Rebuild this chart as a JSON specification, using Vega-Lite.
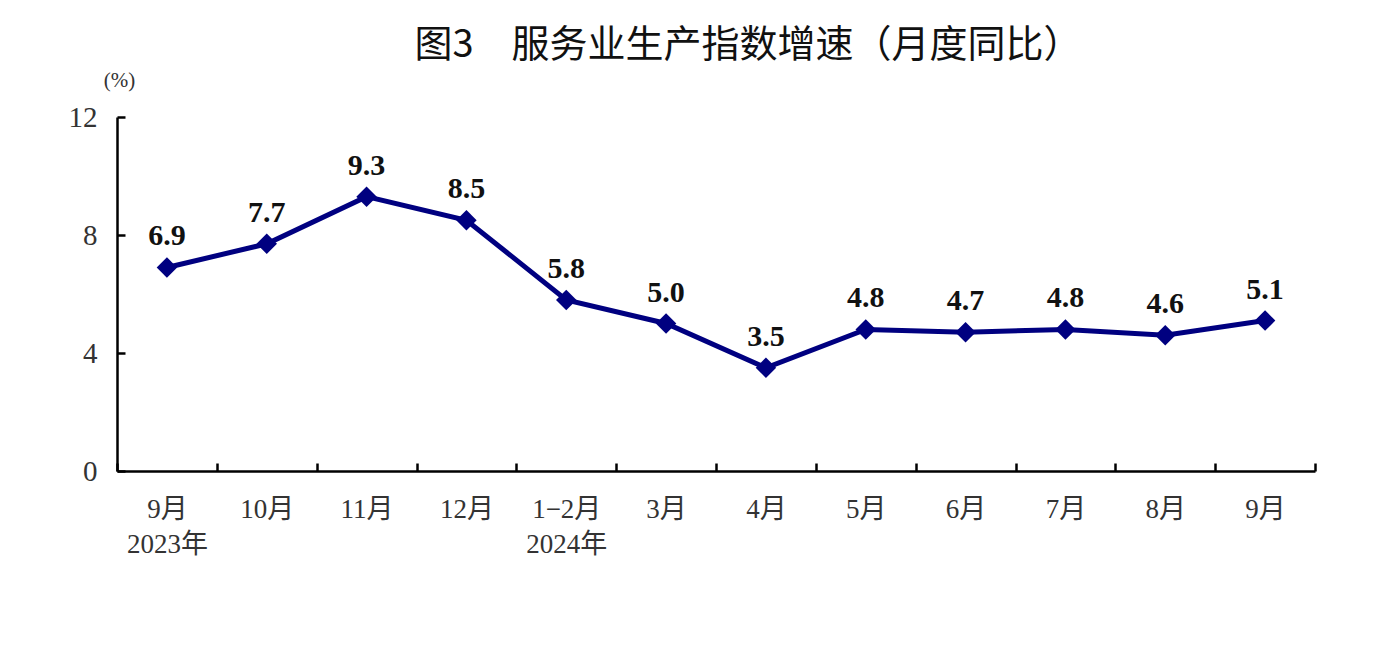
{
  "$schema": "https://vega.github.io/schema/vega-lite/v6.json",
  "width": 1198,
  "height": 354,
  "autosize": {"type": "none"},
  "padding": {"left": 117, "top": 117, "right": 68, "bottom": 177},
  "background": "white",
  "title": {
    "text": "图3　服务业生产指数增速（月度同比）",
    "font": "Noto Sans CJK SC",
    "fontSize": 38,
    "fontWeight": "normal",
    "color": "#111111",
    "anchor": "middle",
    "dx": 32,
    "offset": 4
  },
  "config": {"view": {"stroke": null}},
  "data": {
    "values": [
      {"month": "2023-09", "label": "9月|2023年", "value": 6.9},
      {"month": "2023-10", "label": "10月", "value": 7.7},
      {"month": "2023-11", "label": "11月", "value": 9.3},
      {"month": "2023-12", "label": "12月", "value": 8.5},
      {"month": "2024-02", "label": "1−2月|2024年", "value": 5.8},
      {"month": "2024-03", "label": "3月", "value": 5.0},
      {"month": "2024-04", "label": "4月", "value": 3.5},
      {"month": "2024-05", "label": "5月", "value": 4.8},
      {"month": "2024-06", "label": "6月", "value": 4.7},
      {"month": "2024-07", "label": "7月", "value": 4.8},
      {"month": "2024-08", "label": "8月", "value": 4.6},
      {"month": "2024-09", "label": "9月", "value": 5.1}
    ]
  },
  "encoding": {
    "x": {
      "field": "label",
      "type": "ordinal",
      "sort": null,
      "scale": {"type": "band", "paddingInner": 0, "paddingOuter": 0},
      "axis": {
        "title": null,
        "labelAngle": 0,
        "labelExpr": "split(datum.label, '|')",
        "labelFont": "Liberation Serif, Noto Sans CJK SC",
        "labelFontSize": 27,
        "labelColor": "#333333",
        "labelPadding": 33,
        "labelLineHeight": 35,
        "labelBaseline": "top",
        "tickBand": "extent",
        "tickSize": -8,
        "tickWidth": 2.5,
        "tickColor": "#000000",
        "domainColor": "#000000",
        "domainWidth": 2.5
      }
    },
    "y": {
      "field": "value",
      "type": "quantitative",
      "scale": {"domain": [0, 12], "nice": false, "zero": true},
      "axis": {
        "values": [0, 4, 8, 12],
        "grid": false,
        "title": "(%)",
        "titleAngle": 0,
        "titleX": 2,
        "titleY": -37,
        "titleAlign": "center",
        "titleBaseline": "middle",
        "titleFont": "Liberation Serif",
        "titleFontSize": 21,
        "titleFontWeight": "normal",
        "titleColor": "#333333",
        "labelFont": "Liberation Serif",
        "labelFontSize": 29,
        "labelColor": "#333333",
        "labelPadding": 28,
        "tickSize": -8,
        "tickWidth": 2.5,
        "tickColor": "#000000",
        "domainColor": "#000000",
        "domainWidth": 2.5
      }
    }
  },
  "layer": [
    {
      "mark": {"type": "line", "color": "#000080", "strokeWidth": 5}
    },
    {
      "mark": {"type": "point", "shape": "diamond", "filled": true, "size": 420, "color": "#000080", "opacity": 1}
    },
    {
      "mark": {
        "type": "text",
        "dy": -31,
        "font": "Liberation Serif",
        "fontSize": 30,
        "fontWeight": "bold",
        "color": "#111111"
      },
      "encoding": {
        "text": {"field": "value", "type": "quantitative", "format": ".1f"}
      }
    }
  ]
}
